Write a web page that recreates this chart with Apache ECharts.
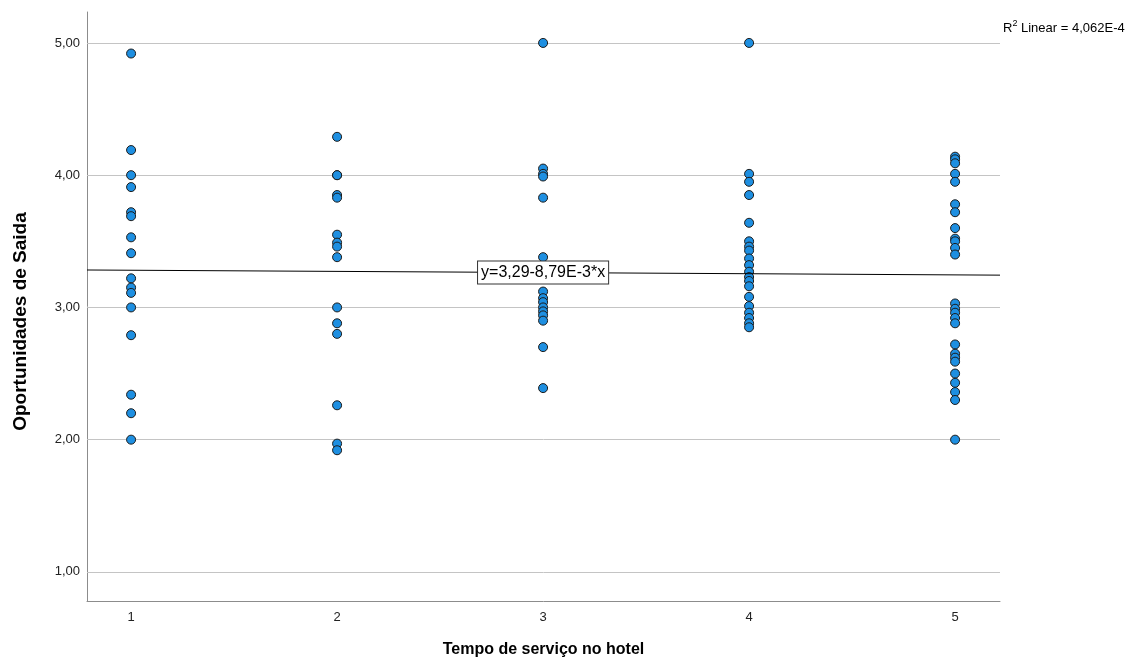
<!DOCTYPE html>
<html>
<head>
<meta charset="utf-8">
<script src="https://cdn.jsdelivr.net/npm/echarts@6/dist/echarts.min.js"></script>
<style>html,body{margin:0;padding:0;background:#fff}#c{width:1142px;height:668px}</style>
</head>
<body>
<div id="c"></div>
<script>
const xTicks = [1, 2, 3, 4, 5];
const yTicks = [1, 2, 3, 4, 5];
const g1 = [4.92, 4.19, 4.00, 3.91, 3.72, 3.69, 3.53, 3.41, 3.22, 3.15, 3.11, 3.00, 2.79, 2.34, 2.20, 2.00];
const g2 = [4.29, 4.00, 4.00, 3.85, 3.83, 3.55, 3.49, 3.46, 3.38, 3.00, 2.88, 2.80, 2.26, 1.97, 1.92];
const g3 = [5.00, 4.05, 4.01, 3.99, 3.83, 3.38, 3.12, 3.07, 3.04, 3.00, 2.97, 2.94, 2.90, 2.70, 2.39];
const g4 = [5.00, 4.01, 3.95, 3.85, 3.64, 3.50, 3.46, 3.43, 3.37, 3.32, 3.27, 3.23, 3.20, 3.16, 3.08, 3.01, 2.96, 2.92, 2.88, 2.85];
const g5 = [4.14, 4.12, 4.09, 4.01, 3.95, 3.78, 3.72, 3.60, 3.52, 3.50, 3.45, 3.40, 3.03, 2.99, 2.96, 2.92, 2.88, 2.72, 2.65, 2.62, 2.59, 2.50, 2.43, 2.36, 2.30, 2.00];
const groups = [g1, g2, g3, g4, g5];
const intercept = 3.29;
const slope = -0.00879;
const xMin = 0.786, xMax = 5.218;
const yMin = 0.78, yMax = 5.234;

const points = [];
groups.forEach((g, i) => g.forEach(v => points.push([xTicks[i], v])));
const fit = x => intercept + slope * x;
const lineData = [[xMin, fit(xMin)], [xMax, fit(xMax)]];

const chart = echarts.init(document.getElementById('c'));
const FONT = '"Liberation Sans", Arial, sans-serif';
chart.setOption({
  animation: false,
  grid: { left: 87, right: 142, top: 12, bottom: 67 },
  xAxis: {
    type: 'value', min: xMin, max: xMax,
    name: 'Tempo de serviço no hotel', nameLocation: 'middle', nameGap: 41,
    nameTextStyle: { fontFamily: FONT, fontSize: 16, fontWeight: 'bold', color: '#000' },
    axisLine: { show: true, lineStyle: { color: '#8c8c8c', width: 1 } },
    axisTick: { show: false, customValues: xTicks },
    axisLabel: { customValues: xTicks, fontFamily: FONT, fontSize: 13, color: '#222', margin: 10, formatter: v => String(v) },
    splitLine: { show: false }
  },
  yAxis: {
    type: 'value', min: yMin, max: yMax,
    name: 'Oportunidades de Saida', nameLocation: 'middle', nameGap: 57, nameRotate: 90,
    nameTextStyle: { fontFamily: FONT, fontSize: 19, fontWeight: 'bold', color: '#000', padding: [0, 30, 0, 0] },
    axisLine: { show: true, lineStyle: { color: '#8c8c8c', width: 1 } },
    axisTick: { show: false, customValues: yTicks },
    axisLabel: { customValues: yTicks, fontFamily: FONT, fontSize: 13, color: '#222', margin: 7, formatter: v => v.toFixed(2).replace('.', ',') },
    splitLine: { show: false }
  },
  series: [
    {
      type: 'line', data: [], silent: true, z: 1,
      markLine: {
        silent: true, symbol: 'none', label: { show: false }, z: 1,
        lineStyle: { color: '#c4c4c4', width: 1, type: 'solid' },
        data: yTicks.map(v => ({ yAxis: v }))
      }
    },
    {
      type: 'scatter', data: points, symbol: 'circle', symbolSize: 9, z: 3,
      itemStyle: { color: '#1e8fe1', borderColor: '#1a1a1a', borderWidth: 1, opacity: 1 }
    },
    {
      type: 'line', data: lineData, symbol: 'none', silent: true,
      lineStyle: { color: '#000', width: 1 }, z: 5,
      markPoint: {
        symbol: 'rect', symbolSize: 0, silent: true, z: 10,
        data: [{ coord: [3, fit(3)] }],
        label: {
          show: true, position: 'inside', formatter: 'y=3,29-8,79E-3*x',
          fontFamily: FONT, fontSize: 16, lineHeight: 18, color: '#000',
          backgroundColor: '#fff', borderColor: '#333', borderWidth: 1,
          padding: [2, 3, 2, 3]
        }
      }
    }
  ],
  graphic: [{
    type: 'text', left: 1003, top: 19,
    style: {
      text: '{a|R}{s|2}{a| Linear = 4,062E-4}',
      rich: {
        a: { fontFamily: FONT, fontSize: 13, fill: '#000', verticalAlign: 'bottom', lineHeight: 16 },
        s: { fontFamily: FONT, fontSize: 9, fill: '#000', verticalAlign: 'top', lineHeight: 16, padding: [0, 0, 5, 0] }
      }
    }
  }]
});
</script>
</body>
</html>
